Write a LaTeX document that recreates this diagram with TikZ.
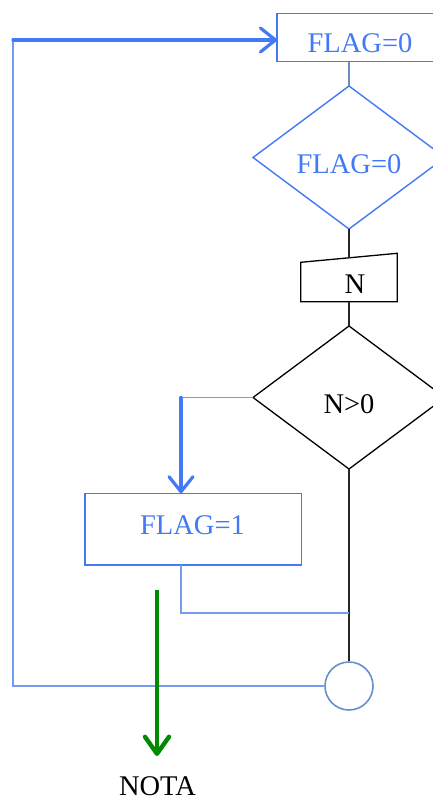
\documentclass[tikz,border=0pt]{standalone}
\usepackage{fontspec}
\setmainfont{Liberation Serif}
\usetikzlibrary{arrows.meta}
\definecolor{mblue}{RGB}{66,122,245}
\definecolor{lblue}{RGB}{115,155,240}
\definecolor{cblue}{RGB}{100,145,205}
\definecolor{mgreen}{RGB}{0,138,0}
\tikzset{
  shapeblue/.style={draw=mblue,line width=1.4pt},
  shapeblack/.style={draw=black,line width=1.3pt},
  thinblue/.style={draw=lblue,line width=1.6pt},
  thinblack/.style={draw=black!85,line width=1.3pt},
  thickblue/.style={draw=mblue,line width=3.2pt,line cap=round,
    -{Straight Barb[length=15pt,width=24pt,line cap=round,line join=round]}},
  thickgreen/.style={draw=mgreen,line width=4.4pt,
    -{Straight Barb[length=17pt,width=24pt,line cap=round,line join=round]}},
  lbl/.style={font=\fontsize{28.5}{32}\selectfont,anchor=base,inner sep=0pt},
}
\begin{document}
\begin{tikzpicture}[x=1pt,y=-1pt]
\clip (0,0) rectangle (433,800);
\fill[white] (0,0) rectangle (433,800);
% coordinates
\coordinate (b1tl) at (277,13.5);
\coordinate (b1br) at (441,61.7);
\coordinate (b1b) at (349,61.7);
\coordinate (b1l) at (277,40);
\coordinate (d1t) at (349,86);
\coordinate (d1b) at (349,229);
\coordinate (mt) at (349,257.8);
\coordinate (mb) at (349,301.7);
\coordinate (d2t) at (349,326);
\coordinate (d2l) at (253,397.5);
\coordinate (d2b) at (349,469);
\coordinate (b2t) at (181,493.3);
\coordinate (b2b) at (181,565);
\coordinate (j1) at (349,613);
\coordinate (lc) at (13,40);
% shapes
\draw[shapeblue] (b1tl) rectangle (b1br);
\draw[shapeblue] (d1t) -- (445,157.5) -- (d1b) -- (253,157.5) -- cycle;
\draw[shapeblack] (300.7,262.3) -- (397.3,253.3) -- (397.3,301.7) -- (300.7,301.7) -- cycle;
\draw[shapeblack] (d2t) -- (445,397.5) -- (d2b) -- (d2l) -- cycle;
\draw[shapeblue] (85,493.3) rectangle (301.7,565);
\node[draw=cblue,line width=1.6pt,circle,minimum size=48pt,inner sep=0pt] (c) at (349,686) {};
% texts
\node[lbl,text=mblue] (t1) at (360,52.7) {FLAG=0};
\node[lbl,text=mblue] (t2) at (349,173.3) {FLAG=0};
\node[lbl] (t3) at (355,293.3) {N};
\node[lbl] (t4) at (349,413.3) {N>0};
\node[lbl,text=mblue] (t5) at (192.5,534) {FLAG=1};
\node[lbl] (t6) at (157.5,795) {NOTA};
% connectors
\draw[draw=cblue!80!gray,line width=1.3pt] (b1b) -- (d1t);
\draw[thinblack] (d1b) -- (mt);
\draw[thinblack] (mb) -- (d2t);
\draw[thinblack] (d2b) -- (c.north);
\draw[thinblue] (d2l) -- (b2t |- d2l);
\draw[thickblue] (b2t |- d2l) -- (b2t);
\draw[thinblue] (b2b) -- (b2b |- j1) -- (j1);
\draw[thinblue] (c.west) -- (lc |- c.west) -- ([yshift=1.5pt]lc);
\draw[thickblue] (lc) -- (b1l);
\coordinate (gs) at (157,590);
\coordinate (ge) at (157,756);
\draw[thickgreen] (gs) -- (ge);
\end{tikzpicture}
\end{document}
